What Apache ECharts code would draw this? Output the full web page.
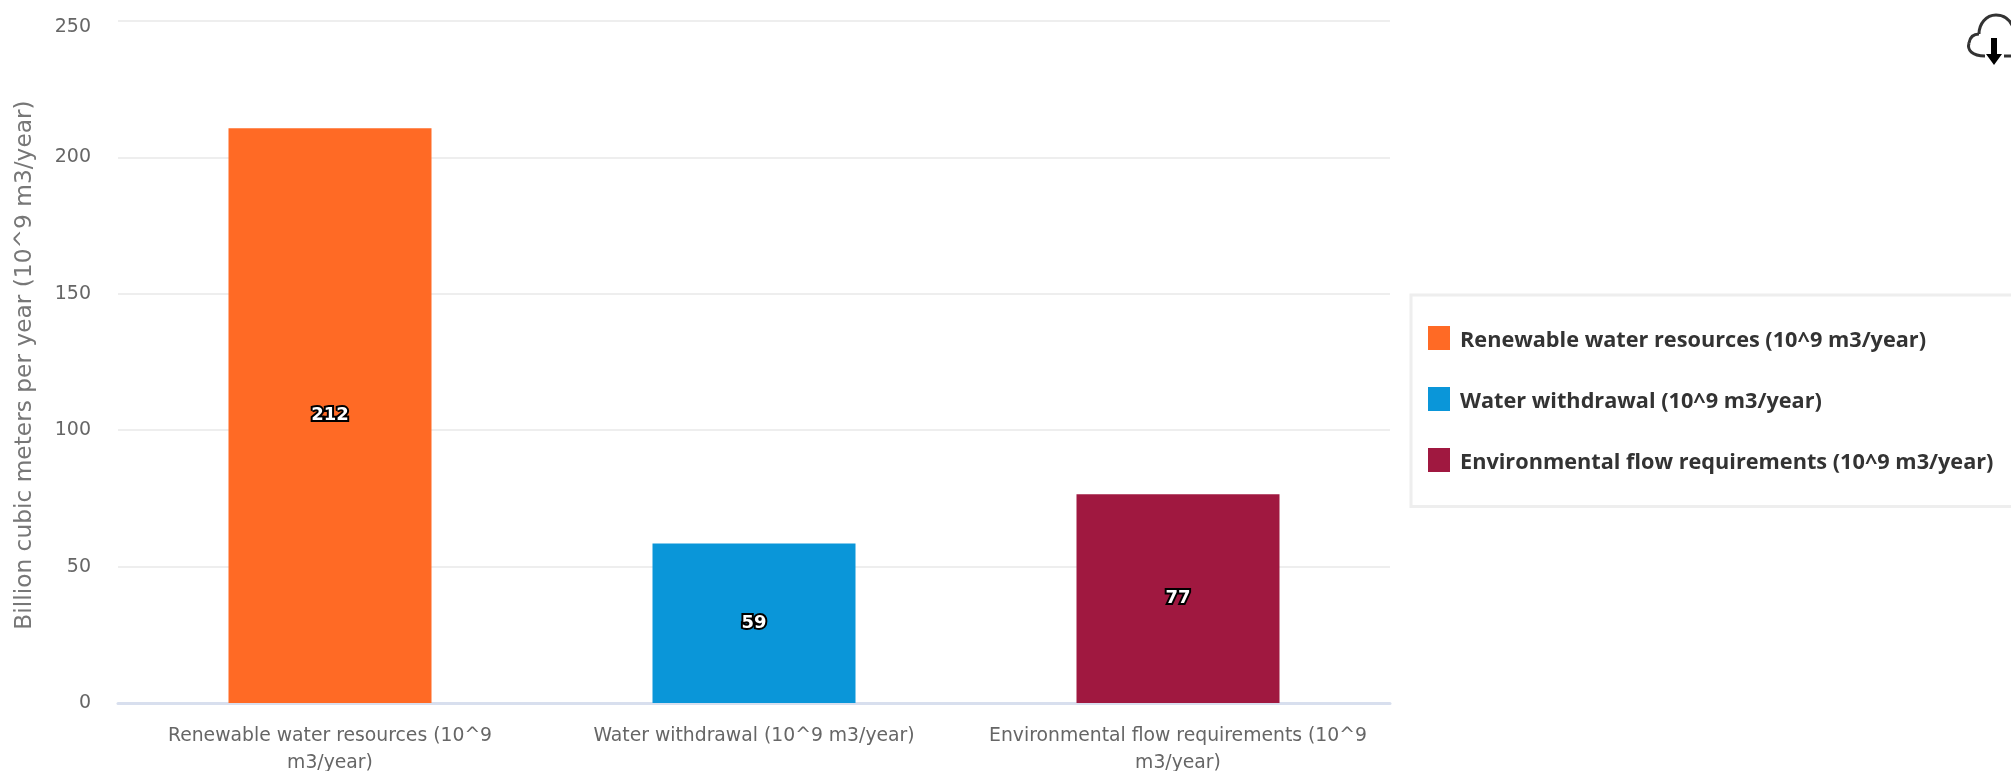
<!DOCTYPE html>
<html><head><meta charset="utf-8">
<style>html,body{margin:0;padding:0;background:#fff}#c{width:2011px;height:771px}</style>
<script src="https://cdn.jsdelivr.net/npm/echarts@6/dist/echarts.min.js"></script></head>
<body><div id="c"></div>
<script>
const categories = ['Renewable water resources (10^9 m3/year)','Water withdrawal (10^9 m3/year)','Environmental flow requirements (10^9 m3/year)'];
const tickLabels = ['Renewable water resources (10^9\nm3/year)','Water withdrawal (10^9 m3/year)','Environmental flow requirements (10^9\nm3/year)'];
const values = [210.7, 58.5, 76.5];
const valueLabels = ['212','59','77'];
const colors = ['#ff6a25','#0a96d9','#a01840'];
const yTicks = {min:0,max:250,interval:50};
const yTitle = 'Billion cubic meters per year (10^9 m3/year)';
const font = '"DejaVu Sans"';
const legendFont = '"Open Sans"';
const chart = echarts.init(document.getElementById('c'),null,{renderer:'canvas'});
const iconLine = {fill:'none',stroke:'#333',lineWidth:3};
const curve = (x1,y1,cpx1,cpy1,cpx2,cpy2,x2,y2)=>({type:'bezierCurve',silent:true,shape:{x1,y1,cpx1,cpy1,cpx2,cpy2,x2,y2},style:iconLine});
chart.setOption({
  animation:false,
  grid:{left:118,right:621,top:21,bottom:68,outerBoundsMode:'none'},
  legend:{orient:'vertical',left:1411,top:295,data:categories,icon:'rect',itemWidth:22,itemHeight:24,itemGap:35.5,
    padding:[31,150,33,17],borderColor:'#eeeeee',borderWidth:3,backgroundColor:'#fff',selectedMode:false,
    formatter:n=>'{t|'+n+'}',
    textStyle:{rich:{t:{fontFamily:legendFont,fontWeight:'bold',fontSize:21.7,color:'#333',padding:[5,0,0,5]}}}},
  xAxis:{type:'category',data:categories,axisTick:{show:false},axisLine:{lineStyle:{color:'#d8dfee',width:3}},
    axisLabel:{interval:0,fontFamily:font,fontSize:18.8,color:'#666',margin:20,lineHeight:27,
      formatter:(v,i)=>tickLabels[i]}},
  yAxis:{type:'value',min:yTicks.min,max:yTicks.max,interval:yTicks.interval,name:yTitle,nameLocation:'middle',nameGap:82,
    nameTextStyle:{fontFamily:font,fontSize:23.3,color:'#777',padding:[0,6,0,0]},
    axisLine:{show:false},axisTick:{show:false},splitLine:{lineStyle:{color:'#eeeeee',width:2}},
    axisLabel:{fontFamily:font,fontSize:19,color:'#666',margin:27,
      formatter:v=>v===yTicks.max?'{top|'+v+'}':String(v),
      rich:{top:{fontFamily:font,fontSize:19,color:'#666',padding:[12,0,0,0]}}}},
  series:categories.map((name,i)=>({name,type:'bar',stack:'all',barWidth:203,
    itemStyle:{color:colors[i]},
    data:categories.map((_,j)=>j===i?values[i]:null),
    label:{show:true,position:'inside',formatter:()=>valueLabels[i],fontFamily:font,fontWeight:'bold',fontSize:18,color:'#fff',textBorderColor:'#000',textBorderWidth:4}})),
  graphic:[
    curve(1985,56,1972,56,1967,50,1969,43),
    curve(1969,43,1970,37,1974,34,1979,34),
    curve(1979,34,1979,24,1986,15,1996,15),
    curve(1996,15,2004,15,2010,20,2013,27),
    {type:'line',silent:true,shape:{x1:2004,y1:56,x2:2013,y2:56},style:iconLine},
    {type:'polygon',silent:true,shape:{points:[[1991,38],[1997,38],[1997,54],[2002,54],[1994,65],[1986,54],[1991,54]]},style:{fill:'#000'}}
  ]
});
</script></body></html>
